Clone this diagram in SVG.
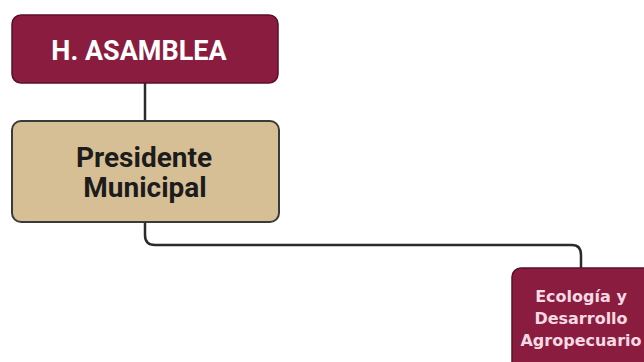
<svg xmlns="http://www.w3.org/2000/svg" width="644" height="362" viewBox="0 0 644 362">
<style>
.maroon{fill:#8a1c40;stroke:#5a1028;stroke-width:1.5}
.tan{fill:#d6bf95;stroke:#3a3a3a;stroke-width:2}
.t1{font-family:Roboto,"Liberation Sans",sans-serif;font-weight:bold;text-anchor:middle}
.t2{font-family:"DejaVu Sans","Liberation Sans",sans-serif;font-weight:bold;text-anchor:middle}
.conn{fill:none;stroke:#2b2b2b;stroke-width:2.5}
</style>
<rect width="644" height="362" fill="#ffffff"/>
<g id="connectors">
<line class="conn" x1="145" y1="83" x2="145" y2="121" stroke-width="1.5"/>
<path class="conn" d="M145 222 V235 Q145 245 155 245 H572 Q581 245 581 255 V268"/>
</g>
<g id="asamblea">
<rect class="maroon" x="12" y="15" width="266" height="68" rx="9"/>
<text class="t1" x="139" y="60" font-size="27" fill="#ffffff">H. ASAMBLEA</text>
</g>
<g id="presidente">
<rect class="tan" x="12" y="121" width="267" height="101" rx="9"/>
<text class="t1" x="144" y="167" font-size="28" fill="#1c1c1c">Presidente</text>
<text class="t1" x="145" y="197" font-size="28" fill="#1c1c1c">Municipal</text>
</g>
<g id="ecologia">
<rect class="maroon" x="512" y="268" width="140" height="110" rx="9"/>
<text class="t2" x="581" y="302" font-size="16" fill="#f6d9e3">Ecología y</text>
<text class="t2" x="581" y="324" font-size="16" fill="#f6d9e3">Desarrollo</text>
<text class="t2" x="581" y="346" font-size="16" fill="#f6d9e3">Agropecuario</text>
</g>
</svg>
